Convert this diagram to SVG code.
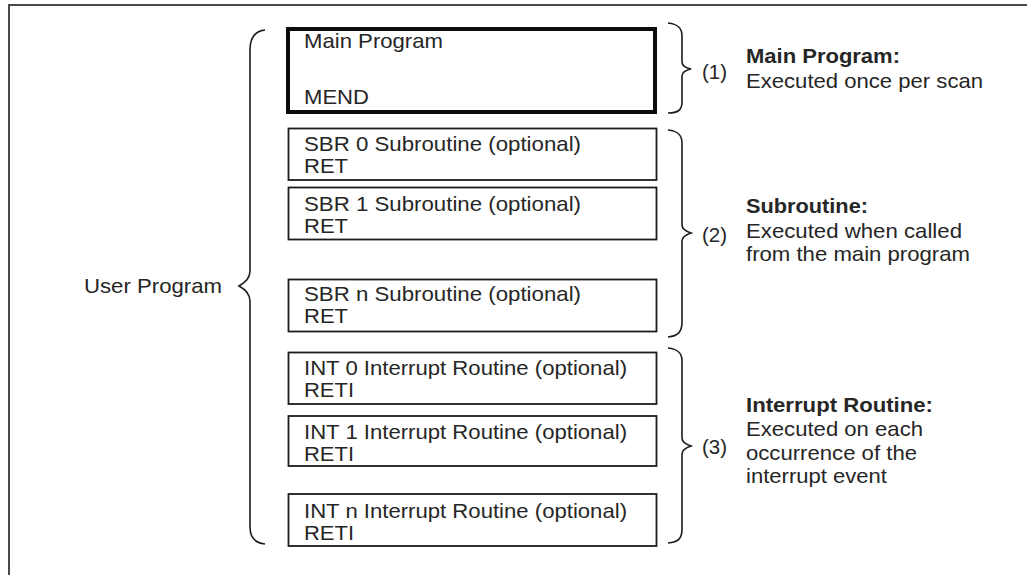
<svg xmlns="http://www.w3.org/2000/svg" width="1027" height="575" viewBox="0 0 1027 575">
  <style>
    text { font-family: "Liberation Sans", Arial, sans-serif; font-size: 21px; fill: #262626; }
    .b { font-weight: bold; }
    .box { fill: #ffffff; stroke: #1c1c1c; stroke-width: 1.8; }
    .main { fill: #ffffff; stroke: #0d0d0d; stroke-width: 4; }
    .brace { fill: none; stroke: #1c1c1c; stroke-width: 1.6; }
    .frame { fill: none; stroke: #4a4a4a; stroke-width: 2; }
  </style>

  <!-- page frame (open towards right and bottom) -->
  <path class="frame" d="M9,575 L9,5 L1027,5"/>

  <!-- program blocks -->
  <g id="main-program">
    <rect class="main" x="288" y="29" width="367" height="83"/>
    <text x="304" y="48" textLength="139" lengthAdjust="spacingAndGlyphs">Main Program</text>
    <text x="304" y="104" textLength="65" lengthAdjust="spacingAndGlyphs">MEND</text>
  </g>
  <g id="sbr0">
    <rect class="box" x="288.5" y="128.5" width="368" height="51.5"/>
    <text x="304" y="150.5" textLength="277" lengthAdjust="spacingAndGlyphs">SBR 0 Subroutine (optional)</text>
    <text x="304" y="172.5" textLength="44" lengthAdjust="spacingAndGlyphs">RET</text>
  </g>
  <g id="sbr1">
    <rect class="box" x="288.5" y="187.5" width="368" height="52"/>
    <text x="304" y="210.5" textLength="277" lengthAdjust="spacingAndGlyphs">SBR 1 Subroutine (optional)</text>
    <text x="304" y="233" textLength="44" lengthAdjust="spacingAndGlyphs">RET</text>
  </g>
  <g id="sbrn">
    <rect class="box" x="288.5" y="279.5" width="368" height="52"/>
    <text x="304" y="300.5" textLength="277" lengthAdjust="spacingAndGlyphs">SBR n Subroutine (optional)</text>
    <text x="304" y="322.5" textLength="44" lengthAdjust="spacingAndGlyphs">RET</text>
  </g>
  <g id="int0">
    <rect class="box" x="288.5" y="352.5" width="368" height="51.5"/>
    <text x="304" y="375" textLength="323" lengthAdjust="spacingAndGlyphs">INT 0 Interrupt Routine (optional)</text>
    <text x="304" y="396.5" textLength="50" lengthAdjust="spacingAndGlyphs">RETI</text>
  </g>
  <g id="int1">
    <rect class="box" x="288.5" y="416" width="368" height="50"/>
    <text x="304" y="438.5" textLength="323" lengthAdjust="spacingAndGlyphs">INT 1 Interrupt Routine (optional)</text>
    <text x="304" y="460.5" textLength="50" lengthAdjust="spacingAndGlyphs">RETI</text>
  </g>
  <g id="intn">
    <rect class="box" x="288.5" y="494" width="368" height="52"/>
    <text x="304" y="517.5" textLength="323" lengthAdjust="spacingAndGlyphs">INT n Interrupt Routine (optional)</text>
    <text x="304" y="539.5" textLength="50" lengthAdjust="spacingAndGlyphs">RETI</text>
  </g>

  <!-- user program label -->
  <g id="user-program">
    <text x="84" y="293" textLength="138" lengthAdjust="spacingAndGlyphs">User Program</text>
  </g>

  <!-- grouping braces -->
  <g id="braces">
    <path class="brace" d="M265,30 C255,31 250,38 250,50 L250,271 Q250,280 239,286 Q250,292 250,301 L250,527 C250,538 255,543 265,544"/>
    <path class="brace" d="M668,23 C678,24 682,28 682,36 L682,62 Q682,67 691,69 Q682,71 682,76 L682,102 C682,110 678,113 668,113"/>
    <path class="brace" d="M668,130 C678,131 682,135 682,143 L682,225 Q682,230 691,233 Q682,236 682,241 L682,322 C682,332 678,336 668,337"/>
    <path class="brace" d="M668,348 C678,349 682,353 682,361 L682,438 Q682,443 691,446 Q682,449 682,454 L682,529 C682,539 678,542 668,543"/>
  </g>

  <!-- section descriptions -->
  <g id="desc-main">
    <text x="702" y="79" textLength="25" lengthAdjust="spacingAndGlyphs">(1)</text>
    <text class="b" x="746" y="63" textLength="154" lengthAdjust="spacingAndGlyphs">Main Program:</text>
    <text x="746" y="88" textLength="237" lengthAdjust="spacingAndGlyphs">Executed once per scan</text>
  </g>
  <g id="desc-sbr">
    <text x="702" y="242" textLength="25" lengthAdjust="spacingAndGlyphs">(2)</text>
    <text class="b" x="746" y="213" textLength="122" lengthAdjust="spacingAndGlyphs">Subroutine:</text>
    <text x="746" y="238" textLength="216" lengthAdjust="spacingAndGlyphs">Executed when called</text>
    <text x="746" y="261" textLength="224" lengthAdjust="spacingAndGlyphs">from the main program</text>
  </g>
  <g id="desc-int">
    <text x="702" y="454" textLength="25" lengthAdjust="spacingAndGlyphs">(3)</text>
    <text class="b" x="746" y="412" textLength="187" lengthAdjust="spacingAndGlyphs">Interrupt Routine:</text>
    <text x="746" y="436" textLength="177" lengthAdjust="spacingAndGlyphs">Executed on each</text>
    <text x="746" y="460" textLength="171" lengthAdjust="spacingAndGlyphs">occurrence of the</text>
    <text x="746" y="483" textLength="141" lengthAdjust="spacingAndGlyphs">interrupt event</text>
  </g>
</svg>
